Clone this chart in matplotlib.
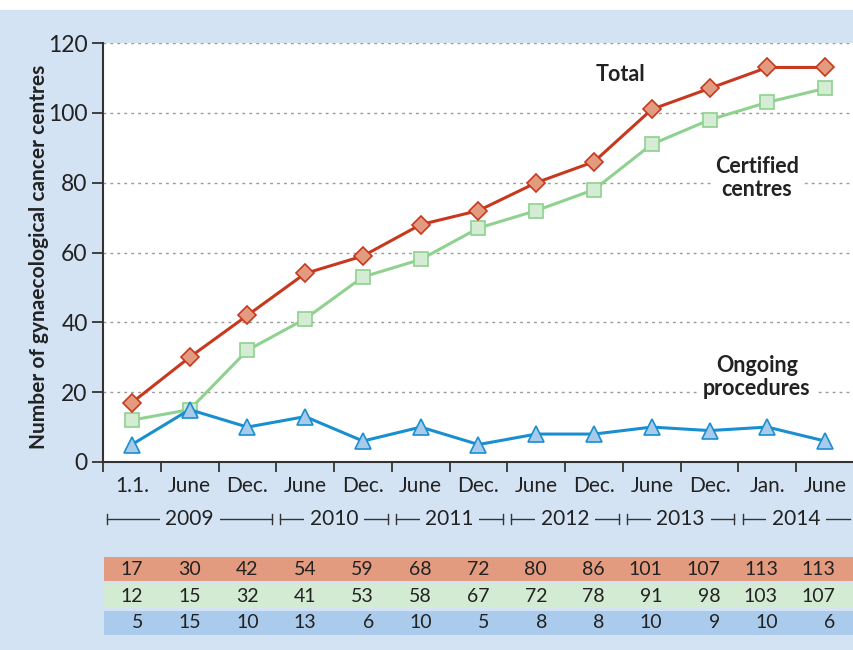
import matplotlib.pyplot as plt
from matplotlib.patches import Rectangle
import matplotlib.transforms as mtransforms

plt.rcParams['font.family'] = ['Lato', 'DejaVu Sans']

# data
periods = ['1.1.', 'June', 'Dec.', 'June', 'Dec.', 'June', 'Dec.', 'June', 'Dec.',
           'June', 'Dec.', 'Jan.', 'June']
years = ['2009', '2010', '2011', '2012', '2013', '2014']
year_spans = [(0, 2), (3, 4), (5, 6), (7, 8), (9, 10), (11, 12)]
total = [17, 30, 42, 54, 59, 68, 72, 80, 86, 101, 107, 113, 113]
certified = [12, 15, 32, 41, 53, 58, 67, 72, 78, 91, 98, 103, 107]
ongoing = [5, 15, 10, 13, 6, 10, 5, 8, 8, 10, 9, 10, 6]

bg = '#d3e3f4'
red, red_fill = '#c8381e', '#e39b80'
green, green_fill = '#8fd18f', '#d4ebd4'
blue, blue_fill = '#1a8fd0', '#a9cbeb'
txt = '#222222'

fig = plt.figure(figsize=(8.54, 6.5), dpi=100)
fig.patch.set_facecolor(bg)
# white strip at the very top
fig.patches.append(Rectangle((0, 640 / 650), 1, 10 / 650, transform=fig.transFigure,
                             facecolor='white', edgecolor='none', zorder=0))

ax = fig.add_axes([103 / 854, 1 - 462 / 650, 751 / 854, 419 / 650])
x = list(range(len(periods)))

ax.plot(x, total, color=red, lw=2.2, marker='D', ms=9.5, mfc=red_fill, mec=red, mew=1.2, zorder=4)
ax.plot(x, certified, color=green, lw=2.2, marker='s', ms=10, mfc=green_fill, mec=green, mew=1.2, zorder=3)
ax.plot(x, ongoing, color=blue, lw=2.2, marker='^', ms=11, mfc=blue_fill, mec=blue, mew=1.2, zorder=3)

ax.set_xlim(-0.5, len(periods) - 0.5)
ax.set_ylim(0, 120)
ax.set_yticks(range(0, 121, 20))
ax.tick_params(axis='y', labelsize=16.5, length=8, width=1.3, color='#333333', pad=3,
               labelcolor=txt)
ax.set_xticks([i - 0.5 for i in range(len(periods) + 1)])
ax.set_xticklabels([])
ax.tick_params(axis='x', length=7, width=1.3, color='#333333')
for i, p in enumerate(periods):
    ax.text(i, -7, p, ha='center', va='center', fontsize=15, color=txt)

for s in ['top', 'right']:
    ax.spines[s].set_visible(False)
for s in ['left', 'bottom']:
    ax.spines[s].set_linewidth(1.5)
    ax.spines[s].set_color('#333333')
ax.grid(axis='y', linestyle=(0, (2, 3)), color='#999999', lw=1)
ax.set_axisbelow(True)

ax.set_ylabel('Number of gynaecological cancer centres', fontsize=15, fontweight='bold',
              color=txt)
ax.yaxis.set_label_coords(-54 / 751, 0.49)

lbl = dict(fontsize=15.5, fontweight='bold', ha='center', va='center', color=txt,
           linespacing=1.15, bbox=dict(facecolor='white', edgecolor='none', pad=3))
ax.text(8.45, 111.1, 'Total', **lbl)
ax.text(10.82, 81.3, 'Certified\ncentres', **lbl)
ax.text(10.82, 24.3, 'Ongoing\nprocedures', **lbl)

# year brackets
tr = mtransforms.blended_transform_factory(ax.transData, ax.transAxes)
yb = -0.135
for yr, (a, b) in zip(years, year_spans):
    x0, x1 = a - 0.43, b + 0.43
    ax.plot([x0, x1], [yb, yb], color='#333333', lw=1, transform=tr, clip_on=False)
    ax.plot([x0, x0], [yb - 0.012, yb + 0.012], color='#333333', lw=1, transform=tr, clip_on=False)
    if yr != years[-1]:
        ax.plot([x1, x1], [yb - 0.012, yb + 0.012], color='#333333', lw=1, transform=tr, clip_on=False)
    ax.text((a + b) / 2, yb, yr, transform=tr, ha='center', va='center', fontsize=15,
            color=txt, bbox=dict(facecolor=bg, edgecolor='none', pad=4), clip_on=False)

# table of values
tax = fig.add_axes([104 / 854, 1 - 636 / 650, 750 / 854, 80 / 650])
tax.set_xlim(-0.5, len(periods) - 0.5)
tax.set_ylim(0, 3)
tax.axis('off')
rows = [(total, '#e39b80'), (certified, '#d3ead3'), (ongoing, '#aacbeb')]
for r, (vals, col) in enumerate(rows):
    yc = 2.5 - r
    tax.barh(yc, len(periods), left=-0.5, height=0.9, color=col, edgecolor='none')
    for i, v in enumerate(vals):
        tax.text(i + 0.18, yc, str(v), ha='right', va='center', fontsize=14, color=txt)

fig.savefig('out.png', dpi=100, facecolor=fig.get_facecolor())
